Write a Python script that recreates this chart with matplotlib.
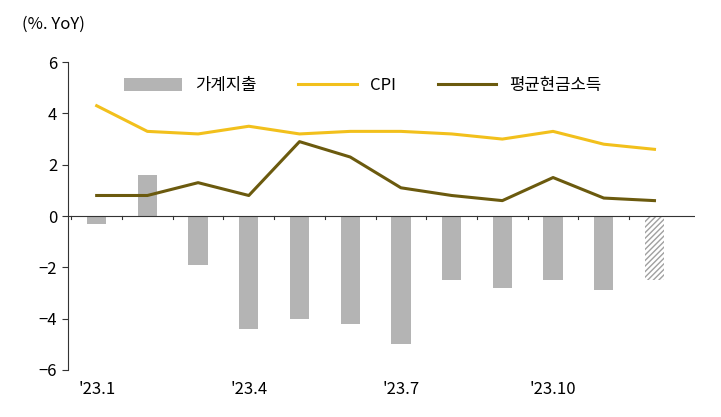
import numpy as np
import matplotlib.pyplot as plt

plt.rcParams['font.family'] = ['Noto Sans CJK KR', 'DejaVu Sans']

months = ["'23.1", "'23.2", "'23.3", "'23.4", "'23.5", "'23.6",
          "'23.7", "'23.8", "'23.9", "'23.10", "'23.11", "'23.12"]
spending = [-0.3, 1.6, -1.9, -4.4, -4.0, -4.2, -5.0, -2.5, -2.8, -2.5, -2.9, -2.5]
cpi = [4.3, 3.3, 3.2, 3.5, 3.2, 3.3, 3.3, 3.2, 3.0, 3.3, 2.8, 2.6]
income = [0.8, 0.8, 1.3, 0.8, 2.9, 2.3, 1.1, 0.8, 0.6, 1.5, 0.7, 0.6]

fig = plt.figure(figsize=(7.21, 4.17), dpi=100)
ax = fig.add_axes([0.094, 0.113, 0.87, 0.738])
x = np.arange(len(months))

b = ax.bar(x[:-1], spending[:-1], width=0.38, color='#b4b4b4', label='가계지출')
ax.bar(x[-1], spending[-1], width=0.38, color='white', edgecolor='#a0a0a0',
       hatch='//////', linewidth=0)
l1, = ax.plot(x, cpi, color='#f2c01c', lw=2.2, label='CPI')
l2, = ax.plot(x, income, color='#6b5a0e', lw=2.2, label='평균현금소득')

ax.axhline(0, color='#333333', lw=0.8)
ax.set_xlim(-0.57, 11.8)
ax.set_ylim(-6, 6)
ax.set_yticks([-6, -4, -2, 0, 2, 4, 6])
ax.set_yticklabels(['−6', '−4', '−2', '0', '2', '4', '6'], fontsize=12)
ax.set_xticks([0, 3, 6, 9])
ax.set_xticklabels([months[i] for i in [0, 3, 6, 9]], fontsize=12)
ax.tick_params(axis='x', length=0, pad=8)
ax.tick_params(axis='y', direction='out', length=4, color='#333333')
for s in ['top', 'right', 'bottom']:
    ax.spines[s].set_visible(False)
ax.spines['left'].set_color('#333333')
for i in x:
    ax.plot([i - 0.5, i - 0.5], [0, -0.12], color='#333333', lw=0.8)

fig.text(0.03, 0.93, '(%. YoY)', fontsize=12)
ax.legend([b, l1, l2], ['가계지출', 'CPI', '평균현금소득'],
          loc='upper center', bbox_to_anchor=(0.47, 1.0), ncol=3, frameon=False,
          fontsize=12, handlelength=3.5, handleheight=0.8, columnspacing=2.5)
fig.savefig('out.png')
